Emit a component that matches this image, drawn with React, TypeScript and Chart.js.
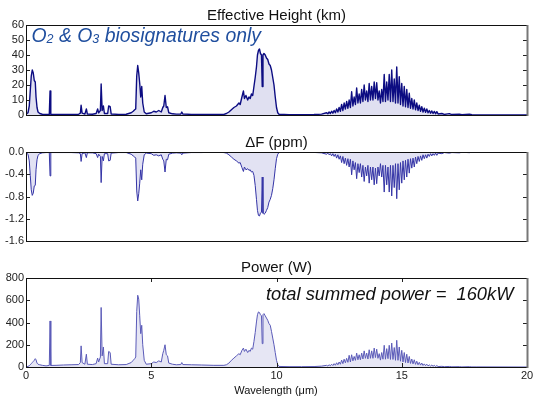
import React, { useEffect, useRef } from 'react';
import { Chart, registerables } from 'chart.js';

Chart.register(...registerables);

// ---------- data ----------
const wavelength = [
  0.0, 0.08, 0.13, 0.17, 0.21, 0.25, 0.29, 0.33, 0.37, 0.4, 0.44, 0.48, 0.55, 0.65, 0.8, 0.93, 0.96, 0.99,
  1.2, 1.5, 1.8, 2.1, 2.17, 2.2, 2.24, 2.35, 2.41, 2.45, 2.65, 2.8, 2.86, 2.9, 2.97, 3.0, 3.04, 3.09, 3.13,
  3.26, 3.3, 3.36, 3.4, 3.7, 4.0, 4.2, 4.28, 4.34, 4.38, 4.42, 4.46, 4.5, 4.54, 4.58, 4.62, 4.66, 4.72, 4.8,
  5.0, 5.1, 5.2, 5.3, 5.4, 5.46, 5.5, 5.55, 5.6, 5.65, 5.7, 5.85, 6.0, 6.18, 6.22, 6.26, 6.6, 7.0, 7.5, 7.9,
  8.0, 8.1, 8.2, 8.3, 8.4, 8.5, 8.55, 8.62, 8.68, 8.72, 8.78, 8.85, 8.9, 8.95, 9.0, 9.05, 9.1, 9.15, 9.2,
  9.24, 9.28, 9.32, 9.36, 9.4, 9.43, 9.46, 9.5, 9.55, 9.6, 9.65, 9.7, 9.75, 9.8, 9.85, 9.9, 9.95, 10.0,
  10.05, 10.1, 10.5, 11.0, 11.5, 11.8,
  12.0, 12.05, 12.1, 12.15, 12.2, 12.25, 12.3, 12.35, 12.4, 12.45, 12.5, 12.55, 12.6, 12.65, 12.7, 12.75,
  12.8, 12.85, 12.9, 12.95, 13.0, 13.05, 13.1, 13.15, 13.2, 13.25, 13.3, 13.35, 13.4, 13.45, 13.5, 13.55,
  13.6, 13.65, 13.7, 13.75, 13.8, 13.85, 13.9, 13.95, 14.0, 14.05, 14.1, 14.15, 14.2, 14.25, 14.3, 14.35,
  14.4, 14.45, 14.5, 14.55, 14.6, 14.65, 14.7, 14.75, 14.8, 14.85, 14.9, 14.95, 15.0, 15.05, 15.1, 15.15,
  15.2, 15.25, 15.3, 15.35, 15.4, 15.45, 15.5, 15.55, 15.6, 15.65, 15.7, 15.75, 15.8, 15.85, 15.9, 15.95,
  16.0, 16.05, 16.1, 16.15, 16.2, 16.25, 16.3, 16.35, 16.4, 16.45, 16.6, 16.7, 16.9, 17.0, 17.3, 17.4,
  17.7, 17.8, 18.0, 20.0,
];

const heightKm = [
  0.5, 1.5, 6, 16, 26, 30, 28, 23, 22, 12, 5, 2, 1, 0.5, 0.3, 0.4, 16, 0.4,
  0.3, 0.3, 0.4, 0.5, 1.2, 6.5, 1.2, 0.6, 4, 0.6, 0.5, 1, 4, 1.5, 3, 20.7, 3, 6, 1,
  1, 6, 5.5, 0.7, 0.4, 0.5, 1.5, 2.5, 3.5, 4, 26, 33, 28, 21, 12, 19, 8, 2, 0.8,
  1.5, 2.5, 2, 3, 2, 5, 6, 13, 5, 5.5, 1.5, 0.8, 0.6, 0.7, 2, 0.7, 0.4, 0.3, 0.3, 0.4,
  1, 2, 3.5, 5, 6, 8, 7, 12, 16, 11, 13, 10, 12, 11, 14, 13, 19, 25, 32,
  40, 43, 44, 41, 40, 19, 40, 41, 40, 38, 37, 34, 33, 30, 25, 20, 12, 5,
  1.5, 0.5, 0.2, 0.2, 0.3, 0.6,
  1.5, 0.8, 2, 1, 2.5, 1.2, 3, 1.5, 4, 2, 5, 2.5, 7, 3, 8, 4,
  9, 4.5, 10, 5, 15.5, 6, 12, 7, 18, 8, 14, 8, 17, 9, 20, 10,
  16, 9, 21, 10, 19, 10, 22, 11, 21.5, 10, 16, 8, 17, 9, 27, 9,
  22, 10, 27, 9, 30, 9, 24, 8, 32, 8, 25.5, 7, 21, 6, 19, 5.5,
  17, 5, 14.5, 4.5, 11, 4, 10, 3.5, 8, 3, 6.5, 2.5, 5.5, 2, 4.5, 1.8,
  4, 1.5, 3, 1.2, 2.7, 1, 2.4, 0.8, 2.2, 0.7, 1, 0.4, 0.9, 0.3, 0.6, 0.2,
  0.5, 0.2, 0.1, 0.1,
];

const deltaF = [
  -0.01, -0.04, -0.16, -0.42, -0.68, -0.78, -0.74, -0.61, -0.6, -0.32, -0.14, -0.06, -0.03, -0.015, -0.01, -0.01, -0.43, -0.01,
  -0.01, -0.01, -0.01, -0.015, -0.03, -0.17, -0.03, -0.015, -0.1, -0.015, -0.015, -0.03, -0.1, -0.04, -0.08, -0.55, -0.08, -0.16, -0.03,
  -0.03, -0.16, -0.15, -0.02, -0.01, -0.01, -0.04, -0.07, -0.09, -0.11, -0.7, -0.88, -0.75, -0.56, -0.32, -0.5, -0.22, -0.05, -0.02,
  -0.03, -0.06, -0.05, -0.07, -0.05, -0.13, -0.16, -0.36, -0.13, -0.14, -0.04, -0.02, -0.015, -0.02, -0.05, -0.02, -0.01, -0.01, -0.005, -0.01,
  -0.02, -0.05, -0.09, -0.13, -0.16, -0.2, -0.19, -0.28, -0.35, -0.27, -0.32, -0.3, -0.33, -0.32, -0.36, -0.35, -0.42, -0.6, -0.85,
  -1.05, -1.14, -1.15, -1.1, -1.08, -0.45, -1.1, -1.12, -1.1, -1.05, -1.0, -0.9, -0.85, -0.78, -0.66, -0.5, -0.3, -0.12,
  -0.04, -0.01, -0.005, -0.005, -0.008, -0.015,
  -0.04, -0.02, -0.05, -0.03, -0.07, -0.03, -0.08, -0.04, -0.11, -0.05, -0.13, -0.07, -0.19, -0.08, -0.21, -0.11,
  -0.24, -0.12, -0.27, -0.13, -0.41, -0.16, -0.32, -0.19, -0.48, -0.21, -0.37, -0.21, -0.45, -0.24, -0.53, -0.27,
  -0.43, -0.24, -0.56, -0.27, -0.5, -0.27, -0.59, -0.29, -0.57, -0.27, -0.43, -0.21, -0.45, -0.24, -0.72, -0.24,
  -0.59, -0.27, -0.72, -0.24, -0.79, -0.24, -0.64, -0.21, -0.84, -0.21, -0.68, -0.19, -0.56, -0.16, -0.5, -0.15,
  -0.45, -0.13, -0.38, -0.12, -0.29, -0.11, -0.27, -0.09, -0.21, -0.08, -0.17, -0.07, -0.15, -0.05, -0.12, -0.05,
  -0.11, -0.04, -0.08, -0.03, -0.07, -0.03, -0.06, -0.02, -0.06, -0.02, -0.03, -0.01, -0.02, -0.01, -0.015, -0.005,
  -0.012, -0.005, -0.003, -0.002,
];

const powerW = [
  2, 5, 12, 20, 30, 40, 50, 60, 75, 65, 35, 25, 20, 15, 10, 14, 414, 14,
  15, 18, 20, 22, 40, 190, 40, 25, 115, 25, 22, 30, 80, 45, 90, 535, 100, 180, 30,
  30, 140, 130, 25, 20, 22, 40, 60, 75, 90, 500, 645, 610, 460, 300, 375, 200, 60, 25,
  30, 45, 40, 55, 45, 120, 150, 200, 110, 100, 35, 25, 20, 22, 40, 22, 20, 18, 15, 15,
  20, 35, 60, 80, 100, 120, 110, 150, 170, 140, 160, 130, 150, 140, 170, 160, 230, 310, 405,
  470, 495, 490, 470, 460, 210, 470, 480, 460, 440, 420, 390, 375, 320, 260, 200, 130, 60,
  20, 5, 3, 3, 4, 8,
  15, 9, 20, 11, 25, 13, 30, 16, 38, 20, 45, 25, 62, 30, 70, 38,
  78, 42, 105, 45, 110, 55, 95, 60, 125, 65, 110, 65, 125, 72, 145, 78,
  125, 72, 155, 78, 145, 78, 170, 85, 160, 78, 120, 62, 130, 70, 195, 70,
  165, 75, 195, 68, 215, 68, 175, 60, 240, 60, 180, 52, 150, 45, 130, 40,
  115, 36, 95, 32, 72, 28, 65, 24, 52, 20, 42, 17, 35, 14, 28, 12,
  25, 10, 19, 8, 17, 7, 15, 5, 13, 4, 6, 3, 5, 2, 3, 1,
  3, 1, 1, 0,
];

const xTickValues = [0, 5, 10, 15, 20];
const heightRange = [0, 60, 10];
const deltaRange = [-1.6, 0, 0.4];
const powerRange = [0, 800, 200];

const FONT = '"Liberation Sans", Arial, Helvetica, sans-serif';
const W = 547;

type Part = { t: string; size: number; dy?: number };
type TextItem = { parts: Part[]; x: number; y: number; color: string; italic?: boolean; align: 'left' | 'center' };

function overlay(texts: TextItem[], xTicks: boolean) {
  return {
    id: 'overlay',
    afterDraw(chart: any) {
      const { ctx, chartArea: a, scales } = chart;
      ctx.save();
      ctx.strokeStyle = '#222';
      ctx.lineWidth = 1;
      ctx.beginPath();
      const ys = scales.y;
      ys.ticks.forEach((t: any) => {
        const py = Math.round(ys.getPixelForValue(t.value)) + 0.5;
        ctx.moveTo(a.left, py);
        ctx.lineTo(a.left + 4, py);
        ctx.moveTo(a.right - 4, py);
        ctx.lineTo(a.right, py);
      });
      if (xTicks) {
        const xs = scales.x;
        xs.ticks.forEach((t: any) => {
          const px = Math.round(xs.getPixelForValue(t.value)) + 0.5;
          ctx.moveTo(px, a.top);
          ctx.lineTo(px, a.top + 4);
          ctx.moveTo(px, a.bottom);
          ctx.lineTo(px, a.bottom - 4);
        });
      }
      ctx.stroke();
      const l = Math.round(a.left) + 0.5;
      const t = Math.round(a.top) + 0.5;
      const r = Math.round(a.right) + 0.5;
      const b = Math.round(a.bottom) + 0.5;
      ctx.strokeStyle = '#111';
      ctx.beginPath();
      ctx.moveTo(r, t);
      ctx.lineTo(l, t);
      ctx.lineTo(l, b);
      ctx.lineTo(r, b);
      ctx.stroke();
      ctx.strokeStyle = '#777';
      ctx.lineWidth = 2;
      ctx.beginPath();
      ctx.moveTo(r, t - 0.5);
      ctx.lineTo(r, b + 0.5);
      ctx.stroke();

      texts.forEach((tx) => {
        const fontOf = (p: Part) => `${tx.italic ? 'italic ' : ''}${p.size}px ${FONT}`;
        let total = 0;
        tx.parts.forEach((p) => {
          ctx.font = fontOf(p);
          total += ctx.measureText(p.t).width;
        });
        let x = tx.align === 'center' ? tx.x - total / 2 : tx.x;
        ctx.fillStyle = tx.color;
        ctx.textBaseline = 'alphabetic';
        ctx.textAlign = 'left';
        tx.parts.forEach((p) => {
          ctx.font = fontOf(p);
          ctx.fillText(p.t, x, tx.y + (p.dy || 0));
          x += ctx.measureText(p.t).width;
        });
      });
      ctx.restore();
    },
  };
}

function makeChart(
  canvas: HTMLCanvasElement,
  values: number[],
  range: number[],
  line: string,
  fill: string,
  lineWidth: number,
  padding: { top: number; bottom: number },
  showX: boolean,
  xHeight: number,
  texts: TextItem[],
  decimals: number
) {
  return new Chart(canvas, {
    type: 'line',
    data: {
      datasets: [
        {
          data: wavelength.map((x, i) => ({ x, y: values[i] })),
          borderColor: line,
          backgroundColor: fill,
          borderWidth: lineWidth,
          fill: 'origin',
          pointRadius: 0,
          tension: 0,
          borderJoinStyle: 'round',
        },
      ],
    },
    options: {
      animation: false,
      responsive: false,
      events: [],
      layout: { padding: { left: 0, right: W - 527, top: padding.top, bottom: padding.bottom } },
      plugins: { legend: { display: false }, tooltip: { enabled: false } },
      scales: {
        x: {
          type: 'linear',
          display: showX,
          min: 0,
          max: 20,
          afterBuildTicks: (s: any) => {
            s.ticks = xTickValues.map((v) => ({ value: v }));
          },
          afterFit: (s: any) => {
            s.height = xHeight;
          },
          grid: { display: false, drawTicks: false },
          border: { display: false },
          ticks: { padding: 2, color: '#222', autoSkip: false, font: { family: FONT, size: 11 }, maxRotation: 0 },
        },
        y: {
          min: range[0],
          max: range[1],
          afterFit: (s: any) => {
            s.width = 26;
          },
          grid: { display: false, drawTicks: false },
          border: { display: false },
          ticks: {
            stepSize: range[2],
            autoSkip: false,
            padding: 2,
            color: '#222',
            font: { family: FONT, size: 11 },
            callback: (v: any) => Number(v).toFixed(decimals),
          },
        },
      },
    } as any,
    plugins: [overlay(texts, showX)],
  });
}

export default function App() {
  const c1 = useRef<HTMLCanvasElement>(null);
  const c2 = useRef<HTMLCanvasElement>(null);
  const c3 = useRef<HTMLCanvasElement>(null);

  useEffect(() => {
    const charts = [
      makeChart(c1.current!, heightKm, heightRange, '#0c0c82', '#e0e0f1', 1.4, { top: 25, bottom: 10 }, false, 0, [
        { parts: [{ t: 'Effective Height (km)', size: 15 }], x: 276.5, y: 20, color: '#111', align: 'center' },
        {
          parts: [
            { t: 'O', size: 19.4 },
            { t: '2', size: 12.5, dy: 1.5 },
            { t: ' & O', size: 19.4 },
            { t: '3', size: 12.5, dy: 1.5 },
            { t: ' biosignatures only', size: 19.4 },
          ],
          x: 31.5,
          y: 41.7,
          color: '#1f4e9e',
          italic: true,
          align: 'left',
        },
      ], 0),
      makeChart(c2.current!, deltaF, deltaRange, '#3434a6', '#e2e2f3', 1, { top: 27, bottom: 9 }, false, 0, [
        { parts: [{ t: '\u0394F (ppm)', size: 15 }], x: 276.5, y: 21.7, color: '#111', align: 'center' },
      ], 1),
      makeChart(c3.current!, powerW, powerRange, '#5a5ab8', '#e6e6f4', 1, { top: 28, bottom: 0 }, true, 42, [
        { parts: [{ t: 'Power (W)', size: 15 }], x: 276.5, y: 22.3, color: '#111', align: 'center' },
        { parts: [{ t: 'total summed power =  160kW', size: 18.3 }], x: 266, y: 50, color: '#111', italic: true, align: 'left' },
        { parts: [{ t: 'Wavelength (\u03bcm)', size: 11 }], x: 276, y: 144, color: '#111', align: 'center' },
      ], 0),
    ];
    return () => charts.forEach((c) => c.destroy());
  }, []);

  const st = (top: number, h: number): React.CSSProperties => ({ position: 'absolute', left: 0, top, width: W, height: h, display: 'block' });
  return (
    <div style={{ position: 'absolute', left: 0, top: 0, width: W, height: 409, background: '#fff' }}>
      <canvas ref={c1} width={W} height={125} style={st(0, 125)} />
      <canvas ref={c2} width={W} height={125} style={st(125, 125)} />
      <canvas ref={c3} width={W} height={159} style={st(250, 159)} />
    </div>
  );
}
